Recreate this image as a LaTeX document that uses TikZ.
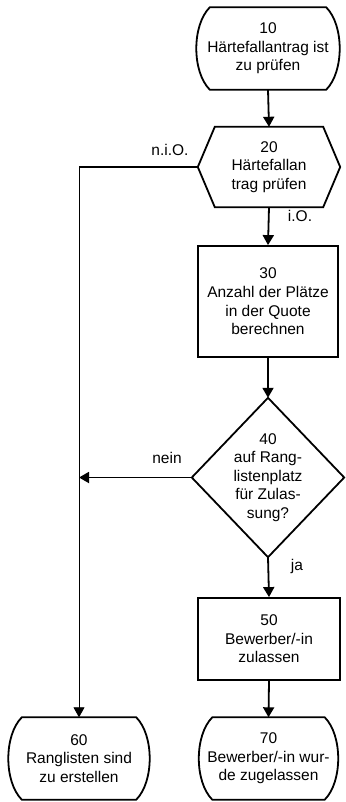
\documentclass[tikz,border=0pt]{standalone}
\usepackage{fontspec}
\setmainfont{Liberation Sans}
\usetikzlibrary{arrows.meta,calc}

\tikzset{
  shapeline/.style={line width=1.8pt, line join=miter},
  flowtext/.style={inner sep=0pt, align=center, font=\fontsize{15.5pt}{18.6pt}\selectfont},
  eventbox/.style={flowtext, minimum width=#1, minimum height=82pt},
  funcbox/.style 2 args={flowtext, draw, shapeline, minimum width=#1, minimum height=#2},
  hexbox/.style={flowtext, minimum width=142pt, minimum height=80pt},
  decbox/.style={flowtext, minimum width=152pt, minimum height=159pt},
  flow/.style={line width=1.8pt, -{Triangle[width=11pt,length=10pt]}},
  plainflow/.style={line width=1.8pt},
  thinflow/.style={line width=0.8pt, -{Triangle[width=11pt,length=10pt]}},
  lbl/.style={inner sep=0pt, font=\fontsize{15.5pt}{18pt}\selectfont}
}

% event outline: flat top and bottom, sides bulging outward
\newcommand\eventoutline[1]{%
  \draw[shapeline]
    ($(#1.north west)+(13,0)$) -- ($(#1.north east)+(-13,0)$)
    .. controls ($(#1.north east)+(5,18)$) and ($(#1.south east)+(5,-18)$)
    .. ($(#1.south east)+(-13,0)$)
    -- ($(#1.south west)+(13,0)$)
    .. controls ($(#1.south west)+(-5,-18)$) and ($(#1.north west)+(-5,18)$)
    .. cycle;}
% check outline: hexagon with pointed sides
\newcommand\hexoutline[1]{%
  \draw[shapeline]
    ($(#1.north west)+(17,0)$) -- ($(#1.north east)+(-17,0)$)
    -- (#1.east)
    -- ($(#1.south east)+(-17,0)$) -- ($(#1.south west)+(17,0)$)
    -- (#1.west) -- cycle;}
% decision outline: diamond
\newcommand\decoutline[1]{%
  \draw[shapeline] (#1.north) -- (#1.east) -- (#1.south) -- (#1.west) -- cycle;}

\begin{document}
\begin{tikzpicture}[x=1pt,y=-1pt]
  \useasboundingbox (0,0) rectangle (345,802);

  \node[eventbox=142pt] (n10) at (268,48.5) {10\\Härtefallantrag ist\\zu prüfen};
  \node[hexbox] (n20) at (269,167) {20\\Härtefallan\\trag prüfen};
  \node[funcbox={140pt}{111pt}] (n30) at (268,301.5) {30\\Anzahl der Plätze\\in der Quote\\berechnen};
  \node[decbox] (n40) at (268,477.5) {40\\auf Rang-\\listenplatz\\für Zulas-\\sung?};
  \node[funcbox={142pt}{82pt}] (n50) at (269,639) {50\\Bewerber/-in\\zulassen};
  \node[eventbox=140pt] (n60) at (79,758.5) {60\\Ranglisten sind\\zu erstellen};
  \node[eventbox=138pt] (n70) at (268.5,758.5) {70\\Bewerber/-in wur-\\de zugelassen};

  \eventoutline{n10}
  \hexoutline{n20}
  \decoutline{n40}
  \eventoutline{n60}
  \eventoutline{n70}

  \coordinate (corner) at (n60.north |- n20.west);

  \draw[flow] (n10.south) -- (n20.north);
  \draw[flow] (n20.south) -- (n30.north);
  \draw[flow] (n30.south) -- (n40.north);
  \draw[flow] (n40.south) -- (n50.north);
  \draw[flow] (n50.south) -- (n70.north);
  \draw[plainflow] (n20.west) -- (corner);
  \draw[thinflow] (corner) -- (n60.north);
  \draw[flow] (n40.west) -- (n40.west -| n60.north);

  \node[lbl] (lniO) at (170,150) {n.i.O.};
  \node[lbl] (liO) at (300,216) {i.O.};
  \node[lbl] (lnein) at (167,458) {nein};
  \node[lbl] (lja) at (297,566) {ja};
\end{tikzpicture}
\end{document}
